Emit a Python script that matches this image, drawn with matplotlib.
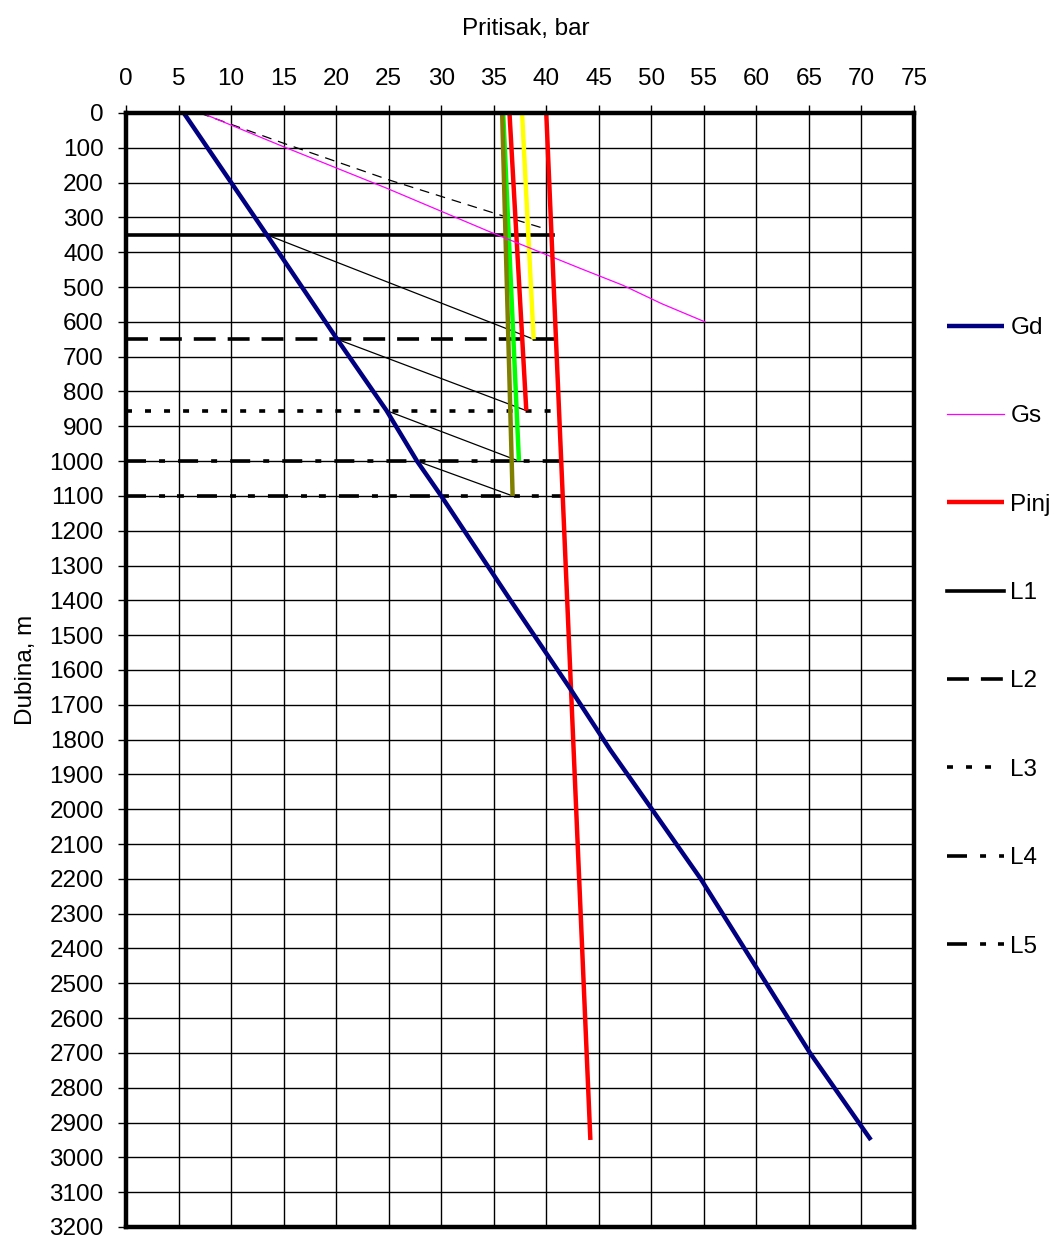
import numpy as np
import matplotlib
matplotlib.use("Agg")
import matplotlib.pyplot as plt

plt.rcParams['font.family'] = ['Liberation Sans', 'DejaVu Sans']
plt.rcParams['lines.scale_dashes'] = False

# ---- data ----
gd_depth = [0, 350, 650, 855, 1000, 1100, 1400, 1650, 1830, 1920, 2200, 2700, 2950]
gd_p = [5.5, 13.4, 20.1, 24.8, 27.7, 30.0, 36.6, 42.2, 46.1, 48.2, 54.7, 65.1, 70.9]

gs_depth = [0, 97, 216, 341, 446, 495, 548, 600]
gs_p = [7.2, 15.0, 24.8, 34.6, 43.2, 47.3, 51.0, 55.1]

gs2_depth = [0, 87, 193, 293, 330]
gs2_p = [7.0, 15.0, 25.1, 35.6, 39.6]

pinj_depth = [0, 2950]
pinj_p = [40.0, 44.2]

valve_depths = [350, 650, 855, 1000, 1100]
valve_line_end = [40.6, 41.0, 41.2, 41.5, 41.7]
valve_labels = ['L1', 'L2', 'L3', 'L4', 'L5']

# opening-pressure lines of the valves (top pressure, bottom pressure, bottom depth)
open_top = [37.7, 36.5, 35.9, 35.8]
open_bottom = [38.8, 38.1, 37.4, 36.8]
open_depth = [650, 855, 1000, 1100]
open_colors = ['#FFFF00', '#FF0000', '#00FF00', '#808000']

# tie lines from Gd at valve depth to next valve
tie_start_depth = [350, 650, 855, 1000]

x_ticks = list(range(0, 80, 5))
y_ticks = list(range(0, 3300, 100))

# ---- figure ----
fig = plt.figure(figsize=(10.57, 12.36), dpi=100)
ax = fig.add_axes([0.1192, 0.0073, 0.7455, 0.9013])

FS = 17.5
dash_styles = [
    '-',
    (0, (15.8, 8.6)),
    (0, (4.3, 9.4)),
    (0, (14.4, 9.4, 4.3, 9.4)),
    (0, (14.4, 9.4, 4.3, 8.6, 5.0, 9.4)),
]

# thin tie lines
for d0, pe, de in zip(tie_start_depth, open_bottom, open_depth):
    p0 = np.interp(d0, gd_depth, gd_p)
    ax.plot([p0, pe], [d0, de], color='black', lw=0.9, zorder=3)

# thin dashed gas gradient
ax.plot(gs2_p, gs2_depth, color='black', lw=0.9, ls=(0, (7, 5)), zorder=3)

# valve depth lines
valve_handles = []
for d, pe, lab, st in zip(valve_depths, valve_line_end, valve_labels, dash_styles):
    h, = ax.plot([0, pe], [d, d], color='black', lw=2.6, ls=st,
                 dash_capstyle='butt', zorder=4, label=lab)
    valve_handles.append(h)

# opening-pressure lines
for pt, pb, d, c in zip(open_top, open_bottom, open_depth, open_colors):
    ax.plot([pt, pb], [0, d], color=c, lw=3.2, zorder=5, solid_capstyle='butt')

h_gs, = ax.plot(gs_p, gs_depth, color='#FF00FF', lw=0.9, zorder=5, label='Gs')
h_pinj, = ax.plot(pinj_p, pinj_depth, color='#FF0000', lw=3.2, zorder=5,
                  solid_capstyle='butt', label='Pinj')
h_gd, = ax.plot(gd_p, gd_depth, color='#000080', lw=3.2, zorder=6,
                solid_capstyle='butt', label='Gd')

ax.set_xlim(0, 75)
ax.set_ylim(3200, 0)
ax.set_xticks(x_ticks)
ax.set_yticks(y_ticks)
ax.xaxis.tick_top()
ax.xaxis.set_label_position('top')
ax.tick_params(axis='both', which='major', labelsize=FS, length=6, width=1,
               color='black', direction='out')
ax.tick_params(axis='x', pad=10.4)
ax.tick_params(axis='y', pad=10)
ax.grid(True, color='black', lw=1.0)
ax.set_axisbelow(True)
for s in ax.spines.values():
    s.set_linewidth(3.2)
    s.set_color('black')
    s.set_zorder(7)

ax.set_xlabel('Pritisak, bar', fontsize=FS, labelpad=24)
ax.xaxis.label.set_x(0.507)
ax.set_ylabel('Dubina, m', fontsize=FS, labelpad=9)

handles = [h_gd, h_gs, h_pinj] + valve_handles
labels = ['Gd', 'Gs', 'Pinj'] + valve_labels
leg = fig.legend(handles, labels, loc='upper left',
                 bbox_to_anchor=(0.8956, 1 - 317 / 1236), frameon=False,
                 fontsize=FS, handlelength=2.37, handletextpad=0.25,
                 labelspacing=2.73, borderaxespad=0, borderpad=0)

fig.savefig('out.png', dpi=100)
